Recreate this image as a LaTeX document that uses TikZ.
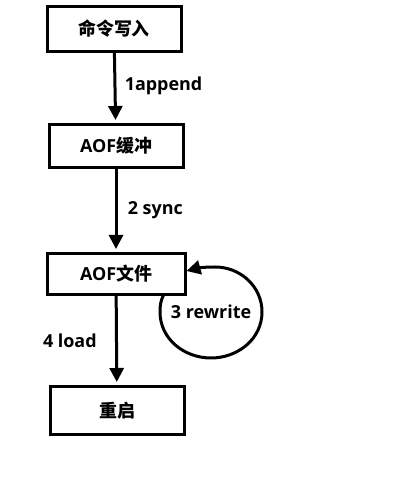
\documentclass[tikz,border=0pt]{standalone}
\usepackage{fontspec}
\setmainfont{Open Sans}
\newfontfamily\cjk{Noto Sans CJK SC}
\usetikzlibrary{arrows.meta,positioning}
\tikzset{
    box/.style={draw, line width=3bp, minimum width=134bp, inner sep=0pt},
    flow/.style={line width=3bp, -{Triangle[length=14bp,width=14bp]}, shorten >=3bp},
    lbl/.style={font=\fontsize{18}{20}\selectfont\bfseries}
}

\begin{document}
\begin{tikzpicture}[x=1bp,y=1bp]
        \useasboundingbox (0,0) rectangle (419,482);

        % Boites du flux AOF
        \node[box, lbl, minimum height=45bp] (cmd) at (114,453) {\cjk 命令写入};
        \node[box, lbl, minimum height=43bp] (buf) at (116,336) {AOF\cjk 缓冲};
        \node[box, lbl, minimum height=41bp, minimum width=138bp] (aof) at (116,208) {AOF\cjk 文件};
        \node[box, lbl, minimum height=48bp] (restart) at (117,71.5) {\cjk 重启};

        % Fleches verticales
        \draw[flow] (cmd) -- node[lbl, pos=0.47, right=5bp] {1append} (buf);
        \draw[flow] (buf) -- node[lbl, midway, right=7bp] {2 sync} (aof);
        \draw[flow] (aof) -- node[lbl, midway, left=15bp] {4 load} (restart);

        % Boucle de reecriture
        \coordinate (loopc) at (211,170);
        \node[lbl] (rw) at (loopc) {3 rewrite};
        \draw[flow, shorten >=0pt] ([xshift=-23bp,yshift=1bp]aof.south east)
            to[out=245,in=90] ([xshift=-51bp]loopc)
            to[out=270,in=180] ([yshift=-46bp]loopc)
            to[out=0,in=270] ([xshift=51bp]loopc)
            to[out=90,in=0] ([xshift=4bp,yshift=45bp]loopc)
            to[out=180,in=15] ([yshift=3bp]aof.east);
\end{tikzpicture}
\end{document}
